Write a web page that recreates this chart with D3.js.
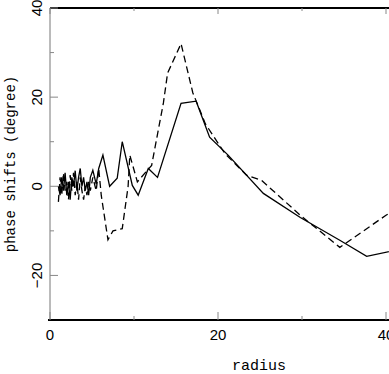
<!DOCTYPE html>
<html>
<head>
<meta charset="utf-8">
<script src="https://cdn.jsdelivr.net/npm/d3@7/dist/d3.min.js"></script>
<style>
  html, body { margin: 0; padding: 0; background: #ffffff; }
  svg { display: block; }
</style>
</head>
<body>
<div id="chart"></div>
<script>
// phase shifts vs radius — two curves (solid and dashed), plot runs off the right edge

// solid curve
const solidR = [1.0, 1.2, 1.4, 1.6, 1.8, 2.0, 2.2, 2.4, 2.6, 2.8, 3.0, 3.2, 3.4, 3.6, 3.8, 4.0, 4.2, 4.4, 4.6, 4.8,
    5.1, 5.5, 5.8, 6.3, 7.1, 8.0, 8.6, 9.8, 10.5, 11.7, 12.8, 15.6, 17.4, 19.0, 21.2, 25.4, 29.8, 34.5, 37.7, 42.0];
const solidPhase = [0, -2, 2, -1, 3, -2, 1, -3, 2, 0, 3.5, -1, 2, 4, 0, 2, -1, 1, -2, 2,
    3.6, 0.5, 4, 7, 0, 1.8, 10, 0.2, -2, 4, 2, 18.6, 19.1, 11, 7, -1.6, -7, -12.1, -15.7, -14];

// dashed curve
const dashedR = [1.0, 1.2, 1.4, 1.6, 1.8, 2.0, 2.2, 2.4, 2.6, 2.8, 3.0, 3.2, 3.4, 3.6, 3.8, 4.0, 4.2, 4.4, 4.6, 4.8,
    5.1, 5.5, 5.8, 6.1, 6.9, 7.5, 8.6, 9.3, 9.5, 10.4, 12.1, 13.5, 14.0, 15.6, 17.0, 18.5, 20.8, 23.4, 25.2, 29.8, 34.5, 40.0, 43.0];
const dashedPhase = [-3.5, 2, -2, 3, -1, 1, -3, 2.5, -1, 3, -2, 1, -3, 2, -1, -3, 0, -2, 1, -1,
    2, -1, 4, -2, -12, -10, -9.5, 0, 7, 1, 4.7, 18.7, 25.4, 32, 21, 14, 7.4, 2.5, 1.3, -6.5, -13.7, -6.5, -3];

const xMajor = [0, 20, 40];
const xMinor = [10, 30];
const yMajor = [-20, 0, 20, 40];
const yMinor = [-10, 10, 30];

const W = 389, H = 374;
const plotL = 50, plotR = 470, plotT = 8, plotB = 320;

const svg = d3.select('#chart').append('svg')
    .attr('width', W)
    .attr('height', H);

const x = d3.scaleLinear().domain([0, 50]).range([plotL, plotR]);
const y = d3.scaleLinear().domain([-30, 40]).range([plotB, plotT]);

// frame
svg.append('line')
    .attr('x1', plotL).attr('x2', plotL)
    .attr('y1', plotT).attr('y2', plotB)
    .attr('stroke', '#777').attr('stroke-width', 1);
svg.append('line')
    .attr('x1', plotL).attr('x2', plotR)
    .attr('y1', plotT).attr('y2', plotT)
    .attr('stroke', '#000').attr('stroke-width', 2);
svg.append('line')
    .attr('x1', plotL - 2).attr('x2', plotR)
    .attr('y1', plotB).attr('y2', plotB)
    .attr('stroke', '#000').attr('stroke-width', 2);

// ticks (inward)
const ticks = svg.append('g').attr('stroke', '#888').attr('stroke-width', 1);
yMajor.forEach(v => ticks.append('line')
    .attr('x1', plotL).attr('x2', plotL + 8).attr('y1', y(v)).attr('y2', y(v)));
yMinor.forEach(v => ticks.append('line')
    .attr('x1', plotL).attr('x2', plotL + 4).attr('y1', y(v)).attr('y2', y(v)));
xMajor.forEach(v => {
    ticks.append('line').attr('x1', x(v)).attr('x2', x(v)).attr('y1', plotB).attr('y2', plotB - 8);
    ticks.append('line').attr('x1', x(v)).attr('x2', x(v)).attr('y1', plotT).attr('y2', plotT + 6);
});
xMinor.forEach(v => {
    ticks.append('line').attr('x1', x(v)).attr('x2', x(v)).attr('y1', plotB).attr('y2', plotB - 4);
    ticks.append('line').attr('x1', x(v)).attr('x2', x(v)).attr('y1', plotT).attr('y2', plotT + 3);
});

// tick labels
svg.append('g').selectAll('text')
    .data(yMajor)
    .join('text')
    .attr('transform', d => 'translate(42,' + y(d) + ') rotate(-90)')
    .attr('text-anchor', 'middle')
    .attr('font-family', 'Liberation Sans, Arial, sans-serif')
    .attr('font-size', '15px')
    .attr('fill', '#000')
    .text(d => d < 0 ? '\u2212' + Math.abs(d) : d);

svg.append('g').selectAll('text')
    .data(xMajor)
    .join('text')
    .attr('x', d => x(d))
    .attr('y', 340)
    .attr('text-anchor', 'middle')
    .attr('font-family', 'Liberation Sans, Arial, sans-serif')
    .attr('font-size', '15px')
    .attr('fill', '#000')
    .text(d => d);

// axis titles
svg.append('text')
    .attr('x', (plotL + plotR) / 2 - 1)
    .attr('y', 370)
    .attr('text-anchor', 'middle')
    .attr('font-family', 'Liberation Mono, Courier New, monospace')
    .attr('font-size', '15px')
    .text('radius');

svg.append('text')
    .attr('transform', 'translate(15,' + (plotT + plotB) / 2 + ') rotate(-90)')
    .attr('text-anchor', 'middle')
    .attr('font-family', 'Liberation Mono, Courier New, monospace')
    .attr('font-size', '14px')
    .text('phase shifts (degree)');

// curves
const line = d3.line().x(d => x(d[0])).y(d => y(d[1]));

svg.append('path')
    .datum(d3.zip(dashedR, dashedPhase))
    .attr('d', line)
    .attr('fill', 'none')
    .attr('stroke', '#000')
    .attr('stroke-width', 1.3)
    .attr('stroke-dasharray', '7 4');

svg.append('path')
    .datum(d3.zip(solidR, solidPhase))
    .attr('d', line)
    .attr('fill', 'none')
    .attr('stroke', '#000')
    .attr('stroke-width', 1.3);
</script>
</body>
</html>
